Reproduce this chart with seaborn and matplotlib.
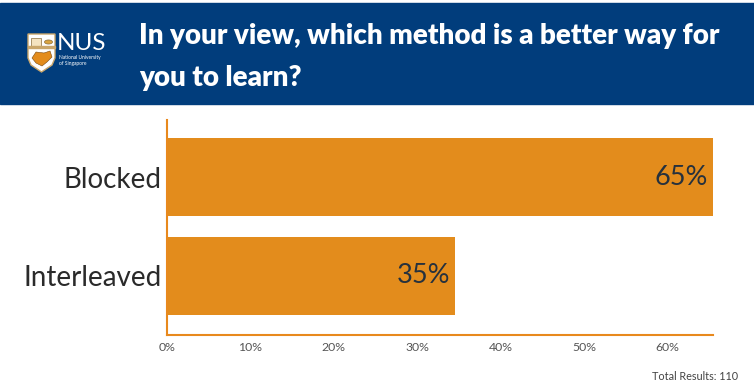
import numpy as np
import pandas as pd
import matplotlib.pyplot as plt
import matplotlib.patches as mpatches
import seaborn as sns

# %% data
categories = ['Blocked', 'Interleaved']
values = [65.45, 34.55]
value_labels = ['65%', '35%']
x_ticks = [0, 10, 20, 30, 40, 50, 60]
x_tick_labels = ['0%', '10%', '20%', '30%', '40%', '50%', '60%']
title = 'In your view, which method is a better way for\nyou to learn?'
footer = 'Total Results: 110'

# %%
def px(x, y):
    # pixel coords (top-left origin) -> figure fraction
    return (x / 754, 1 - y / 386)

def draw_logo(fig):
    tr = fig.transFigure
    shield = [px(28, 34), px(55, 34), px(55, 58), px(52, 65), px(41.5, 72), px(31, 65), px(28, 58)]
    fig.patches.append(mpatches.Polygon(shield, closed=True, transform=tr,
                                        facecolor='white', edgecolor='#c9a66b', lw=1.0, zorder=1))
    # book + medallion in the top band
    fig.patches.append(mpatches.Rectangle(px(31, 46), 10/754, 8/386, transform=tr,
                                          facecolor='#f4e3c0', edgecolor='#8a6d3b', lw=0.5, zorder=2))
    fig.patches.append(mpatches.Circle(px(48.5, 42), 4/754, transform=tr,
                                       facecolor='#d9a441', edgecolor='#8a6d3b', lw=0.5, zorder=2))
    fig.patches.append(mpatches.Rectangle(px(28, 48), 27/754, 1.5/386, transform=tr,
                                          color='#c9a66b', zorder=2))
    # lion
    lion = [px(32, 58), px(36, 52), px(44, 53), px(50, 51), px(52, 57), px(47, 62),
            px(42, 66), px(36, 63)]
    fig.patches.append(mpatches.Polygon(lion, closed=True, transform=tr,
                                        facecolor='#E38C1C', edgecolor='#7a4a10', lw=0.4, zorder=2))
    fig.text(*px(57, 43), 'NUS', color='white', fontsize=17.5,
             family=['Lato', 'DejaVu Sans'], va='center', ha='left')
    fig.text(*px(59, 61), 'National University\nof Singapore', color='white', fontsize=3.5,
             va='center', ha='left', linespacing=1.25)

def main():
    sns.set_style('white')
    plt.rcParams['font.family'] = ['Lato', 'DejaVu Sans']

    df = pd.DataFrame({'method': categories, 'pct': values})
    bar_color = '#E38C1C'
    navy = '#013D7C'

    fig = plt.figure(figsize=(7.54, 3.86), dpi=100)

    # header banner
    fig.patches.append(mpatches.Rectangle(px(0, 104), 1, 101/386,
                                          transform=fig.transFigure, color=navy, zorder=0))
    fig.text(*px(139, 57), title, color='white', fontsize=20, fontweight='heavy',
             va='center', ha='left', linespacing=1.75)
    draw_logo(fig)

    # chart
    ax = fig.add_axes([167/754, 1 - 335/386, (713 - 167)/754, (335 - 120)/386])
    sns.barplot(data=df, y='method', x='pct', orient='h', color=bar_color,
                saturation=1, width=0.79, ax=ax)
    for p in ax.patches:
        p.set_edgecolor('none')

    for i, (v, lab) in enumerate(zip(values, value_labels)):
        ax.text(v - 0.6, i, lab, ha='right', va='center', fontsize=19.5,
                color='#26313d')

    ax.set_xlim(0, max(values))
    ax.set_ylim(1.6, -0.58)
    ax.set_xticks(x_ticks)
    ax.set_xticklabels(x_tick_labels)
    ax.set_xlabel('')
    ax.set_ylabel('')
    ax.tick_params(axis='x', labelsize=8.8, colors='#555555', length=3, width=1,
                   color=bar_color, pad=2)
    ax.tick_params(axis='y', labelsize=20, colors='#2a2a2a', length=0, pad=4)
    for s in ['top', 'right']:
        ax.spines[s].set_visible(False)
    for s in ['left', 'bottom']:
        ax.spines[s].set_color('#E8891D')
        ax.spines[s].set_linewidth(1.5)

    fig.text(*px(738, 376), footer, ha='right', va='center', fontsize=7.8, color='#444444')

    plt.savefig('out.png', dpi=100)

# %%
if __name__ == '__main__':
    main()
